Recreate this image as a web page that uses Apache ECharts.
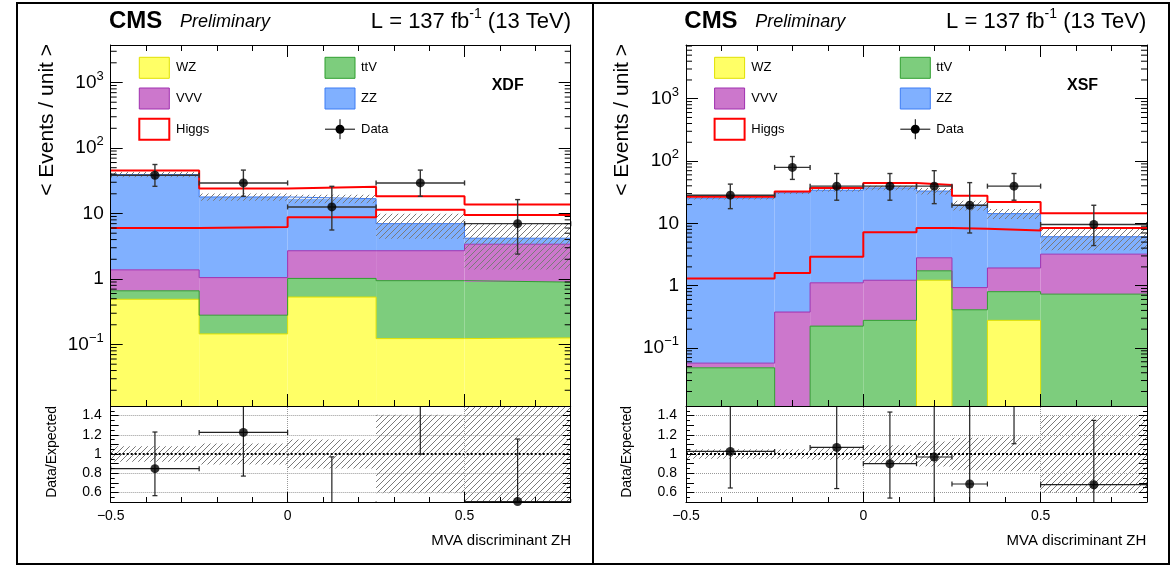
<!DOCTYPE html>
<html><head><meta charset="utf-8">
<script src="https://cdn.jsdelivr.net/npm/echarts@6/dist/echarts.min.js"></script>
<style>html,body{margin:0;padding:0;background:#fff}#c{width:1175px;height:567px}</style>
</head><body><div id="c"></div>
<script>
// ================= DATA =================
// XDF (left panel)
const xdfEdges   = [-0.5, -0.25, 0, 0.25, 0.5, 0.8];
const xdfWZ      = [0.49, 0.145, 0.53, 0.123, 0.126];
const xdfTTV     = [0.17, 0.135, 0.49, 0.82, 0.77];
const xdfVVV     = [0.72, 0.77, 1.68, 1.76, 2.5];
const xdfZZ      = [38.0, 16.85, 14.1, 4.3, 0.8];
const xdfHiggs   = [6.0, 6.2, 8.8, 11.4, 9.5];
const xdfUnc     = [3.6, 2.3, 2.5, 2.9, 2.8];
const xdfData    = [38.4, 29.3, 12.6, 29.3, 7.0];
const xdfDataLo  = [26, 18.3, 5.6, 18.3, 2.4];
const xdfDataHi  = [56, 46, 26, 46, 16.3];
const xdfRatio   = [0.847, 1.225, 0.48, 1.6, 0.505];
const xdfRatioLo = [0.566, 0.77, 0.2, 1.0, 0.17];
const xdfRatioHi = [1.229, 1.9, 0.97, 2.5, 1.156];
const xdfBand    = [0.08, 0.11, 0.15, 0.41, 0.67];

// XSF (right panel)
const xsfEdges   = [-0.5, -0.25, -0.15, 0, 0.15, 0.25, 0.35, 0.5, 0.8];
const xsfWZ      = [0, 0, 0, 0, 1.22, 0, 0.277, 0];
const xsfTTV     = [0.048, 0, 0.224, 0.277, 0.51, 0.41, 0.523, 0.73];
const xsfVVV     = [0.009, 0.377, 0.886, 0.943, 1.07, 0.52, 1.12, 2.47];
const xsfZZ      = [25.4, 30.6, 32.9, 35.8, 30.2, 18.6, 12.4, 2.9];
const xsfHiggs   = [1.3, 1.59, 2.9, 7.2, 8.4, 8.2, 7.7, 8.4];
const xsfUnc     = [1.3, 1.5, 2.0, 3.0, 4.0, 3.4, 2.6, 2.4];
const xsfData    = [28.3, 79, 39.5, 39.5, 39.5, 19.5, 39.5, 9.6];
const xsfDataLo  = [17.2, 50.7, 23.5, 23.5, 20.7, 7.0, 23.5, 4.4];
const xsfDataHi  = [42.6, 118, 63, 63, 70, 45, 63, 19.5];
const xsfRatio   = [1.027, 2.35, 1.069, 0.899, 0.969, 0.6875, 1.8, 0.68];
const xsfRatioLo = [0.646, 1.51, 0.64, 0.541, 0.45, 0.3, 1.107, 0.35];
const xsfRatioHi = [1.7, 3.5, 1.7, 1.437, 1.7, 1.7, 2.8, 1.35];
const xsfBand    = [0.05, 0.05, 0.06, 0.09, 0.13, 0.17, 0.18, 0.4];

const procNames  = ['WZ', 'ttV', 'VVV', 'ZZ'];
const legendLabels = ['WZ', 'ttV', 'VVV', 'ZZ', 'Higgs', 'Data'];
const ratioGridY = [0.6, 0.8, 1.2, 1.4];
const ratioGridX = [0, 0.5];

// ================= STYLE =================
const FONT = "'Liberation Sans', Arial, Helvetica, sans-serif";
const COL = {
  WZ:  {fill: '#ffff66', edge: '#e0e000'},
  ttV: {fill: '#7dcd7d', edge: '#2f9f2f'},
  VVV: {fill: '#cc77cc', edge: '#a030b0'},
  ZZ:  {fill: '#80b0ff', edge: '#3d7cf5'}
};
function hatchCanvas() {
  const c = document.createElement('canvas');
  c.width = 6; c.height = 6;
  const g = c.getContext('2d');
  g.strokeStyle = '#7a7a7a'; g.lineWidth = 1;
  g.beginPath();
  g.moveTo(0, 6); g.lineTo(6, 0);
  g.moveTo(-1, 1); g.lineTo(1, -1);
  g.moveTo(5, 7); g.lineTo(7, 5);
  g.stroke();
  return c;
}
const HATCH = {image: hatchCanvas(), repeat: 'repeat'};

const panels = [
  {tag: 'XDF', edges: xdfEdges, procs: [xdfWZ, xdfTTV, xdfVVV, xdfZZ], higgs: xdfHiggs, unc: xdfUnc,
   data: xdfData, dLo: xdfDataLo, dHi: xdfDataHi, r: xdfRatio, rLo: xdfRatioLo, rHi: xdfRatioHi, band: xdfBand,
   yMin: 0.0115, yMax: 3740, left: 110.7, width: 460, dx: 0},
  {tag: 'XSF', edges: xsfEdges, procs: [xsfWZ, xsfTTV, xsfVVV, xsfZZ], higgs: xsfHiggs, unc: xsfUnc,
   data: xsfData, dLo: xsfDataLo, dHi: xsfDataHi, r: xsfRatio, rLo: xsfRatioLo, rHi: xsfRatioHi, band: xsfBand,
   yMin: 0.0117, yMax: 7280, left: 686, width: 461, dx: 575.3}
];

const MAIN_TOP = 45, MAIN_H = 361, RATIO_TOP = 406, RATIO_H = 96;
const XMIN = -0.5, XMAX = 0.8;

function fmtX(v) {
  if (Math.abs(v - XMAX) < 1e-9) return '';
  const a = Math.round(Math.abs(v) * 10) / 10;
  return (v < -1e-9 ? '\u2212' : '') + String(a);
}
function fmtLog(v) {
  const l = Math.log10(v), e = Math.round(l);
  if (Math.abs(l - e) > 1e-6) return '';
  if (e === 0) return '1';
  if (e === 1) return '10';
  return '10{s|' + (e < 0 ? '\u2212' + (-e) : e) + '}';
}
function fmtRatio(v) {
  const t = Math.round(v * 10);
  if (Math.abs(v * 10 - t) > 1e-6 || t % 2 !== 0) return '';
  if (t < 6 || t > 14) return '';
  return String(t / 10);
}
function logMinors(lo, hi) {
  const out = [];
  for (let e = Math.floor(Math.log10(lo)); e <= Math.ceil(Math.log10(hi)); e++)
    for (let m = 2; m <= 9; m++) { const v = m * Math.pow(10, e); if (v > lo && v < hi) out.push(v); }
  return out;
}

const grids = [], xAxes = [], yAxes = [], series = [], graphics = [];
const axLine = {show: true, onZero: false, lineStyle: {color: '#000', width: 1}};

panels.forEach((p, k) => {
  grids.push({left: p.left, top: MAIN_TOP, width: p.width, height: MAIN_H, containLabel: false, outerBoundsMode: 'none'});
  grids.push({left: p.left, top: RATIO_TOP, width: p.width, height: RATIO_H, containLabel: false, outerBoundsMode: 'none'});
  const gMain = 2 * k, gRat = 2 * k + 1;
  const mx = xAxes.length;
  xAxes.push({type: 'value', gridIndex: gMain, position: 'bottom', min: XMIN, max: XMAX, interval: 0.5, z: 8,
    axisLine: axLine, axisTick: {show: true, inside: true, length: 12, lineStyle: {color: '#000'}},
    minorTick: {show: true, splitNumber: 5, length: 6, lineStyle: {color: '#000'}},
    splitLine: {show: false}, axisLabel: {show: false}});
  xAxes.push({type: 'value', gridIndex: gMain, position: 'top', min: XMIN, max: XMAX, interval: 0.5, z: 8,
    axisLine: axLine, axisTick: {show: true, inside: true, length: 12, lineStyle: {color: '#000'}},
    minorTick: {show: true, splitNumber: 5, length: 6, lineStyle: {color: '#000'}},
    splitLine: {show: false}, axisLabel: {show: false}});
  const rx = xAxes.length;
  xAxes.push({type: 'value', gridIndex: gRat, position: 'bottom', min: XMIN, max: XMAX, interval: 0.5, z: 8,
    axisLine: axLine, axisTick: {show: true, inside: true, length: 10, lineStyle: {color: '#000'}},
    minorTick: {show: true, splitNumber: 5, length: 5, lineStyle: {color: '#000'}},
    splitLine: {show: false},
    axisLabel: {show: true, formatter: fmtX, fontSize: 14, fontFamily: FONT, color: '#000', margin: 7, showMaxLabel: false}});

  const my = yAxes.length;
  yAxes.push({type: 'log', logBase: 10, gridIndex: gMain, position: 'left', min: p.yMin, max: p.yMax, z: 8,
    axisLine: axLine, axisTick: {show: true, inside: true, length: 12, lineStyle: {color: '#000'}},
    splitLine: {show: false},
    axisLabel: {show: true, formatter: fmtLog, fontSize: 19, lineHeight: 26, fontFamily: FONT, color: '#000', margin: 7,
      showMinLabel: false, showMaxLabel: false,
      rich: {s: {fontSize: 13, lineHeight: 13, verticalAlign: 'top', fontFamily: FONT, color: '#000'}}}});
  yAxes.push({type: 'log', logBase: 10, gridIndex: gMain, position: 'right', min: p.yMin, max: p.yMax, z: 8,
    axisLine: axLine, axisTick: {show: true, inside: true, length: 12, lineStyle: {color: '#000'}},
    splitLine: {show: false}, axisLabel: {show: false}});
  const ry = yAxes.length;
  yAxes.push({type: 'value', gridIndex: gRat, position: 'left', min: 0.5, max: 1.5, interval: 0.1, z: 8,
    axisLine: axLine, axisTick: {show: true, inside: true, length: 8, lineStyle: {color: '#000'}},
    minorTick: {show: true, splitNumber: 2, length: 4, lineStyle: {color: '#000'}},
    splitLine: {show: false},
    axisLabel: {show: true, formatter: fmtRatio, fontSize: 14, fontFamily: FONT, color: '#000', margin: 9,
      showMinLabel: false, showMaxLabel: false}});
  yAxes.push({type: 'value', gridIndex: gRat, position: 'right', min: 0.5, max: 1.5, interval: 0.1, z: 8,
    axisLine: axLine, axisTick: {show: true, inside: true, length: 8, lineStyle: {color: '#000'}},
    minorTick: {show: true, splitNumber: 2, length: 4, lineStyle: {color: '#000'}},
    splitLine: {show: false}, axisLabel: {show: false}});

  const n = p.edges.length - 1;
  const centers = p.edges.slice(0, n).map((e, i) => (e + p.edges[i + 1]) / 2);
  let cum = new Array(n).fill(0);
  const floorV = p.yMin * 0.3;
  // stacked fills + outlines
  p.procs.forEach((vals, j) => {
    const lo = cum.slice();
    cum = cum.map((c, i) => c + vals[i]);
    const hi = cum.slice();
    const c = COL[procNames[j]];
    const fillData = [];
    for (let i = 0; i < n; i++) if (vals[i] > 0) fillData.push([p.edges[i], p.edges[i + 1], Math.max(lo[i], p.yMin), hi[i]]);
    series.push({type: 'custom', name: procNames[j], xAxisIndex: mx, yAxisIndex: my, z: 2, silent: true, clip: true,
      dimensions: ['x0', 'x1', 'y0', 'y1'], encode: {x: [0, 1], y: [2, 3]}, data: fillData,
      renderItem: (params, api) => {
        const a = api.coord([api.value(0), api.value(3)]);
        const b = api.coord([api.value(1), api.value(2)]);
        return {type: 'rect', shape: {x: a[0], y: a[1], width: b[0] - a[0], height: b[1] - a[1]}, style: {fill: c.fill}};
      }});
    series.push({type: 'line', name: procNames[j] + ' edge', xAxisIndex: mx, yAxisIndex: my, z: 3, silent: true,
      step: 'end', symbol: 'none', clip: true, animation: false,
      lineStyle: {color: c.edge, width: 1},
      data: p.edges.map((e, i) => [e, Math.max(hi[Math.min(i, n - 1)], floorV)])});
  });
  const total = cum.slice();
  // uncertainty band (hatched)
  series.push({type: 'custom', name: 'Unc', xAxisIndex: mx, yAxisIndex: my, z: 4, silent: true, clip: true,
    dimensions: ['x0', 'x1', 'y0', 'y1'], encode: {x: [0, 1], y: [2, 3]},
    data: total.map((t, i) => [p.edges[i], p.edges[i + 1], Math.max(t - p.unc[i], p.yMin), t + p.unc[i]]),
    renderItem: (params, api) => {
      const a = api.coord([api.value(0), api.value(3)]);
      const b = api.coord([api.value(1), api.value(2)]);
      return {type: 'rect', shape: {x: a[0], y: a[1], width: b[0] - a[0], height: b[1] - a[1]}, style: {fill: HATCH}};
    }});
  // Higgs alone and stacked on total
  series.push({type: 'line', name: 'Higgs', xAxisIndex: mx, yAxisIndex: my, z: 4, silent: true, step: 'end',
    symbol: 'none', clip: true, animation: false, lineStyle: {color: '#ff0000', width: 2},
    data: p.edges.map((e, i) => [e, p.higgs[Math.min(i, n - 1)]])});
  series.push({type: 'line', name: 'Higgs+bkg', xAxisIndex: mx, yAxisIndex: my, z: 4, silent: true, step: 'end',
    symbol: 'none', clip: true, animation: false, lineStyle: {color: '#ff0000', width: 2},
    data: p.edges.map((e, i) => { const q = Math.min(i, n - 1); return [e, total[q] + p.higgs[q]]; })});
  // data error bars
  const errRender = (lw, col) => (params, api) => {
    const xc = api.value(0), y = api.value(1), yl = api.value(2), yh = api.value(3), xl = api.value(4), xh = api.value(5);
    const pl = api.coord([xc, yl]), ph = api.coord([xc, yh]), a = api.coord([xl, y]), b = api.coord([xh, y]);
    const s = {stroke: col, lineWidth: lw};
    return {type: 'group', children: [
      {type: 'line', shape: {x1: pl[0], y1: pl[1], x2: ph[0], y2: ph[1]}, style: s},
      {type: 'line', shape: {x1: pl[0] - 2.5, y1: pl[1], x2: pl[0] + 2.5, y2: pl[1]}, style: s},
      {type: 'line', shape: {x1: ph[0] - 2.5, y1: ph[1], x2: ph[0] + 2.5, y2: ph[1]}, style: s},
      {type: 'line', shape: {x1: a[0], y1: a[1], x2: b[0], y2: b[1]}, style: s},
      {type: 'line', shape: {x1: a[0], y1: a[1] - 2.5, x2: a[0], y2: a[1] + 2.5}, style: s},
      {type: 'line', shape: {x1: b[0], y1: b[1] - 2.5, x2: b[0], y2: b[1] + 2.5}, style: s}
    ]};
  };
  series.push({type: 'custom', name: 'Data err', xAxisIndex: mx, yAxisIndex: my, z: 5, silent: true, clip: true,
    dimensions: ['x', 'y', 'yl', 'yh', 'xl', 'xh'], encode: {x: 0, y: 1},
    data: centers.map((x, i) => [x, p.data[i], p.dLo[i], p.dHi[i], p.edges[i], p.edges[i + 1]]),
    renderItem: errRender(1.4, '#333')});
  series.push({type: 'scatter', name: 'Data', xAxisIndex: mx, yAxisIndex: my, z: 6, silent: true,
    symbol: 'circle', symbolSize: 9, itemStyle: {color: '#000'},
    data: centers.map((x, i) => [x, p.data[i]])});
  // log minor ticks (axis decoration)
  series.push({type: 'custom', name: 'minor ticks', xAxisIndex: mx, yAxisIndex: my, z: 9, silent: true, clip: false,
    encode: {x: 0, y: 1}, data: logMinors(p.yMin, p.yMax).map(v => [XMIN, v]),
    renderItem: (params, api) => {
      const v = api.value(1);
      const l = api.coord([XMIN, v]), r = api.coord([XMAX, v]);
      const s = {stroke: '#000', lineWidth: 1};
      return {type: 'group', children: [
        {type: 'line', shape: {x1: l[0], y1: l[1], x2: l[0] + 6, y2: l[1]}, style: s},
        {type: 'line', shape: {x1: r[0] - 6, y1: r[1], x2: r[0], y2: r[1]}, style: s}]};
    }});

  // ---- ratio panel ----
  series.push({type: 'line', name: 'ratio grid', xAxisIndex: rx, yAxisIndex: ry, z: 1, silent: true, data: [],
    markLine: {silent: true, symbol: ['none', 'none'], label: {show: false}, animation: false,
      data: ratioGridY.map(v => ({yAxis: v, lineStyle: {color: '#999', width: 1, type: 'dotted'}}))
        .concat([{yAxis: 1, lineStyle: {color: '#000', width: 2, type: 'dotted'}}])
        .concat(ratioGridX.map(v => ({xAxis: v, lineStyle: {color: '#999', width: 1, type: 'dotted'}})))}});
  series.push({type: 'custom', name: 'Ratio unc', xAxisIndex: rx, yAxisIndex: ry, z: 3, silent: true, clip: true,
    dimensions: ['x0', 'x1', 'y0', 'y1'], encode: {x: [0, 1], y: [2, 3]},
    data: p.band.map((b, i) => [p.edges[i], p.edges[i + 1], 1 - b, 1 + b]),
    renderItem: (params, api) => {
      const a = api.coord([api.value(0), api.value(3)]);
      const b = api.coord([api.value(1), api.value(2)]);
      return {type: 'rect', shape: {x: a[0], y: a[1], width: b[0] - a[0], height: b[1] - a[1]}, style: {fill: HATCH}};
    }});
  series.push({type: 'custom', name: 'Ratio err', xAxisIndex: rx, yAxisIndex: ry, z: 5, silent: true, clip: true,
    dimensions: ['x', 'y', 'yl', 'yh', 'xl', 'xh'], encode: {x: 0, y: 1},
    data: centers.map((x, i) => [x, p.r[i], p.rLo[i], p.rHi[i], p.edges[i], p.edges[i + 1]]),
    renderItem: errRender(1.2, '#222')});
  series.push({type: 'scatter', name: 'Ratio', xAxisIndex: rx, yAxisIndex: ry, z: 6, silent: true,
    symbol: 'circle', symbolSize: 9, itemStyle: {color: '#000'},
    data: centers.map((x, i) => [x, p.r[i]]).filter(d => d[1] >= 0.5 && d[1] <= 1.5)});

  // ---- graphics: frame, titles, legend ----
  const dx = p.dx;
  graphics.push({type: 'rect', z: 100, shape: {x: 17 + (k ? 576 : 0), y: 3, width: 576, height: 561},
    style: {fill: 'none', stroke: '#000', lineWidth: 2}});
  graphics.push({type: 'text', z: 100, x: 109 + dx, y: 21, style: {text: 'CMS', fontSize: 24, fontWeight: 'bold',
    fontFamily: FONT, fill: '#000', align: 'left', verticalAlign: 'middle'}});
  graphics.push({type: 'text', z: 100, x: 180 + dx, y: 22, style: {text: 'Preliminary', fontSize: 18, fontStyle: 'italic',
    fontFamily: FONT, fill: '#000', align: 'left', verticalAlign: 'middle'}});
  graphics.push({type: 'text', z: 100, x: 571 + dx, y: 22, style: {text: 'L = 137 fb{s|-1} (13 TeV)', fontSize: 22,
    lineHeight: 30, fontFamily: FONT, fill: '#000', align: 'right', verticalAlign: 'middle',
    rich: {s: {fontSize: 14, lineHeight: 14, verticalAlign: 'top', fontFamily: FONT, fill: '#000'}}}});
  graphics.push({type: 'text', z: 100, x: 47 + dx, y: 44, rotation: Math.PI / 2, style: {text: '< Events / unit >',
    fontSize: 21, fontFamily: FONT, fill: '#000', align: 'right', verticalAlign: 'middle'}});
  graphics.push({type: 'text', z: 100, x: 52 + dx, y: 406, rotation: Math.PI / 2, style: {text: 'Data/Expected',
    fontSize: 14, fontFamily: FONT, fill: '#000', align: 'right', verticalAlign: 'middle'}});
  graphics.push({type: 'text', z: 100, x: 571 + dx, y: 541, style: {text: 'MVA discriminant ZH',
    fontSize: 15, fontFamily: FONT, fill: '#000', align: 'right', verticalAlign: 'middle'}});
  graphics.push({type: 'text', z: 100, x: 491.7 + dx, y: 86, style: {text: p.tag,
    fontSize: 16, fontWeight: 'bold', fontFamily: FONT, fill: '#000', align: 'left', verticalAlign: 'middle'}});
  legendLabels.forEach((lab, i) => {
    const col = i % 2, row = Math.floor(i / 2);
    const bx = 139.3 + col * 185.7 + dx, by = 57.3 + row * 30.7, cy = by + 10.5;
    if (lab === 'Data') {
      const cx = bx + 15;
      graphics.push({type: 'line', z: 100, shape: {x1: bx, y1: cy, x2: bx + 30, y2: cy}, style: {stroke: '#000', lineWidth: 1}});
      graphics.push({type: 'line', z: 100, shape: {x1: cx, y1: cy - 10, x2: cx, y2: cy + 10}, style: {stroke: '#000', lineWidth: 1}});
      graphics.push({type: 'circle', z: 101, shape: {cx: cx, cy: cy, r: 4.5}, style: {fill: '#000'}});
    } else if (lab === 'Higgs') {
      graphics.push({type: 'rect', z: 100, shape: {x: bx, y: by, width: 30, height: 21}, style: {fill: '#fff', stroke: '#ff0000', lineWidth: 2}});
    } else {
      graphics.push({type: 'rect', z: 100, shape: {x: bx, y: by, width: 30, height: 21}, style: {fill: COL[lab].fill, stroke: COL[lab].edge, lineWidth: 1}});
    }
    graphics.push({type: 'text', z: 100, x: 176 + col * 185 + dx, y: cy, style: {text: lab, fontSize: 13,
      fontFamily: FONT, fill: '#000', align: 'left', verticalAlign: 'middle'}});
  });
});

const chart = echarts.init(document.getElementById('c'), null, {renderer: 'canvas', width: 1175, height: 567});
chart.setOption({
  animation: false,
  backgroundColor: '#fff',
  grid: grids, xAxis: xAxes, yAxis: yAxes, series: series, graphic: graphics
});
</script>
</body></html>
